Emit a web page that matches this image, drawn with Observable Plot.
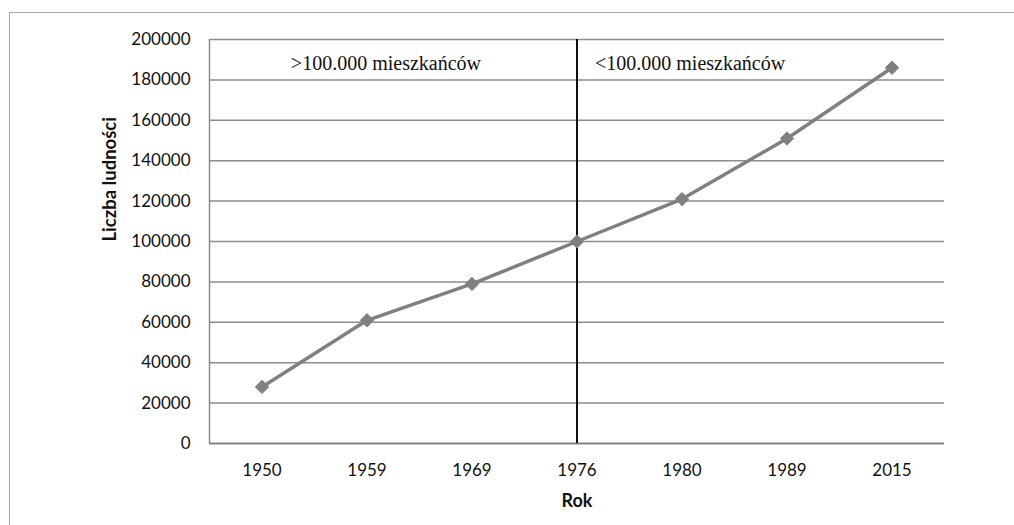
<!DOCTYPE html>
<html>
<head>
<meta charset="utf-8">
<script src="https://cdn.jsdelivr.net/npm/d3@7"></script>
<script src="https://cdn.jsdelivr.net/npm/@observablehq/plot@0.6"></script>
<style>
  html, body { margin: 0; padding: 0; background: #fff; }
  #wrap { position: relative; width: 1014px; height: 525px; overflow: hidden; }
  #border { position: absolute; left: 9px; top: 12px; width: 1100px; height: 600px;
            border-left: 1.5px solid #a8a8a8; border-top: 1.5px solid #a8a8a8; }
  #chart { position: absolute; left: 0; top: 0; }
</style>
</head>
<body>
<div id="wrap"><div id="border"></div><div id="chart"></div></div>
<script>
const years = ["1950", "1959", "1969", "1976", "1980", "1989", "2015"];
const population = [28000, 61000, 79000, 100000, 121000, 151000, 186000];
const yTicks = [0, 20000, 40000, 60000, 80000, 100000, 120000, 140000, 160000, 180000, 200000];
const dividerYear = "1976";
const leftNote = ">100.000 mieszkańców";
const rightNote = "<100.000 mieszkańców";
const yLabel = "Liczba ludności";
const xLabel = "Rok";

const data = years.map((y, i) => ({i, year: y, value: population[i]}));
const divIdx = years.indexOf(dividerYear);

const sans = "Lato, 'Open Sans', sans-serif";
const serif = "'Liberation Serif', 'DejaVu Serif', serif";

const chart = Plot.plot({
  width: 1014,
  height: 525,
  marginLeft: 209,
  marginRight: 70,
  marginTop: 39,
  marginBottom: 82,
  style: {background: "transparent", fontFamily: sans},
  x: {type: "linear", domain: [-0.5, years.length - 0.5]},
  y: {domain: [0, 200000]},
  marks: [
    Plot.gridY(yTicks, {stroke: "#8c8c8c", strokeOpacity: 1, strokeWidth: 1.5}),
    Plot.ruleX([-0.5], {y1: 0, y2: 200000, stroke: "#8c8c8c", strokeWidth: 1.5}),
    Plot.ruleY([0], {stroke: "#7a7a7a", strokeWidth: 1.5}),
    Plot.ruleX([divIdx], {y1: 0, y2: 200000, stroke: "#111", strokeWidth: 2}),
    Plot.axisY({ticks: yTicks, tickSize: 0, tickPadding: 19, tickFormat: d => String(d),
                fontSize: 17, fill: "#111", label: null}),
    Plot.axisX({ticks: d3.range(years.length), tickSize: 0, tickPadding: 20,
                tickFormat: i => years[i], fontSize: 17, fill: "#111", label: null}),
    Plot.line(data, {x: "i", y: "value", stroke: "#808080", strokeWidth: 3.5}),
    Plot.dot(data, {x: "i", y: "value", symbol: "diamond2", r: 6, fill: "#808080", stroke: "#808080", strokeWidth: 1}),
    Plot.text([leftNote], {x: divIdx, y: 188000, text: d => d, textAnchor: "end", dx: -96,
                           fontFamily: serif, fontSize: 20, fill: "#111", lineAnchor: "middle"}),
    Plot.text([rightNote], {x: divIdx, y: 188000, text: d => d, textAnchor: "start", dx: 18,
                            fontFamily: serif, fontSize: 20, fill: "#111", lineAnchor: "middle"}),
    Plot.text([yLabel], {frameAnchor: "left", dx: -99, rotate: -90, text: d => d,
                         fontWeight: "bold", fontSize: 18.5, fill: "#111", lineAnchor: "middle"}),
    Plot.text([xLabel], {x: divIdx, frameAnchor: "bottom", dy: 58, text: d => d,
                         fontWeight: "bold", fontSize: 18, fill: "#111", lineAnchor: "middle"})
  ]
});
document.getElementById("chart").appendChild(chart);
</script>
</body>
</html>
